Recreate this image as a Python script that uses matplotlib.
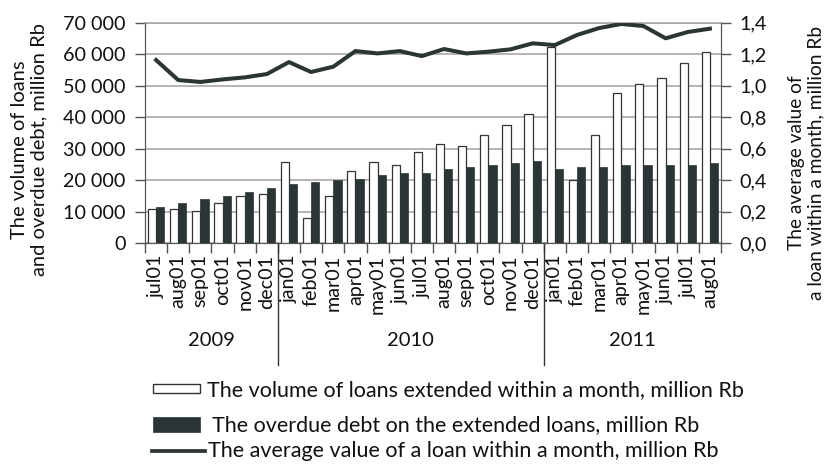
import numpy as np
import matplotlib
matplotlib.use("Agg")
import matplotlib.pyplot as plt
from matplotlib.patches import Rectangle
from matplotlib.lines import Line2D
from matplotlib.ticker import FuncFormatter, MultipleLocator

plt.rcParams['font.family'] = ['Lato', 'DejaVu Sans']
plt.rcParams['text.color'] = '#111111'
plt.rcParams['xtick.labelcolor'] = '#111111'
plt.rcParams['ytick.labelcolor'] = '#111111'

months = ["jul01", "aug01", "sep01", "oct01", "nov01", "dec01",
          "jan01", "feb01", "mar01", "apr01", "may01", "jun01",
          "jul01", "aug01", "sep01", "oct01", "nov01", "dec01",
          "jan01", "feb01", "mar01", "apr01", "may01", "jun01",
          "jul01", "aug01"]
years = ["2009", "2010", "2011"]
months_per_year = [6, 12, 8]

# million Rb
loans_volume = [10800, 10800, 10250, 12800, 15100, 15750,
                25900, 7900, 15100, 22850, 25900, 24850,
                28900, 31400, 30800, 34400, 37450, 40950,
                62400, 20000, 34400, 47600, 50700, 52500,
                57350, 60850]
overdue_debt = [11500, 12800, 14000, 15100, 16400, 17550,
                18700, 19400, 20000, 20500, 21800, 22400,
                22400, 23600, 24200, 24850, 25400, 26000,
                23600, 24200, 24200, 24850, 24850, 24850,
                24850, 25400]
avg_loan = [1.163, 1.036, 1.024, 1.040, 1.053, 1.074,
            1.150, 1.087, 1.121, 1.220, 1.205, 1.220,
            1.188, 1.233, 1.205, 1.216, 1.231, 1.269,
            1.258, 1.322, 1.366, 1.392, 1.379, 1.301,
            1.341, 1.362]

legend_labels = ["The volume of loans extended within a month, million Rb",
                 "The overdue debt on the extended loans, million Rb",
                 "The average value of a loan within a month, million Rb"]
left_label = "The volume of loans\nand overdue debt, million Rb"
right_label = "The average value of\na loan within a month, million Rb"

DARK = "#2b3535"
GRID = "#a8a8a8"
AXIS = "#555555"
TICK_FS = 14.2
MONTH_FS = 14.2
TEXT_FS = 14.5
LEGEND_FS = 15.5

W, H = 825, 465
fig = plt.figure(figsize=(W / 100, H / 100), dpi=100)
x0, x1, ytop, ybot = 145, 721, 22.7, 243.3
ax = fig.add_axes([x0 / W, 1 - ybot / H, (x1 - x0) / W, (ybot - ytop) / H])

x = np.arange(len(months))
bw = 0.37
ax.bar(x - bw / 2, loans_volume, width=bw, color="white", edgecolor="#333333",
       linewidth=0.9, zorder=3)
ax.bar(x + bw / 2, overdue_debt, width=bw, color=DARK, edgecolor=DARK,
       linewidth=0.5, zorder=3)

ax.set_xlim(-0.5, len(months) - 0.5)
ax.set_ylim(0, 70000)
ax.yaxis.set_major_locator(MultipleLocator(10000))
ax.yaxis.set_major_formatter(FuncFormatter(lambda v, p: f"{int(v):,}".replace(",", " ")))
ax.yaxis.grid(True, color=GRID, linewidth=1.2, zorder=0)
ax.set_axisbelow(True)

ax.set_xticks(x)
ax.set_xticklabels(months, rotation=90, fontsize=MONTH_FS, va="top", ha="center")
ax.set_xticks(np.arange(-0.5, len(months), 1), minor=True)
ax.tick_params(axis="x", which="major", length=0, pad=8)
ax.tick_params(axis="x", which="minor", length=7, width=1, color=AXIS, direction="out")
ax.tick_params(axis="y", length=7, width=1, color=AXIS, labelsize=TICK_FS, pad=7)

for side in ["left", "bottom", "right"]:
    ax.spines[side].set_color(AXIS)
ax.spines["top"].set_color(GRID)
ax.spines["top"].set_linewidth(1.2)

ax2 = ax.twinx()
ax2.plot(x, avg_loan, color=DARK, linewidth=2.9, solid_joinstyle="round", zorder=5)
ax2.set_ylim(0, 1.4)
ax2.yaxis.set_major_locator(MultipleLocator(0.2))
ax2.yaxis.set_major_formatter(FuncFormatter(lambda v, p: f"{v:.1f}".replace(".", ",")))
ax2.tick_params(axis="y", length=7, width=1, color=AXIS, labelsize=TICK_FS, pad=6)
for side in ["left", "bottom", "right"]:
    ax2.spines[side].set_color(AXIS)
ax2.spines["top"].set_visible(False)

# year separators and year captions below the month labels
sep_depth = (365 - ybot) / (ybot - ytop)
trans = ax.get_xaxis_transform()
start = 0
for i, (yr, n) in enumerate(zip(years, months_per_year)):
    center = start + (n - 1) / 2
    ax.text(center, -(340 - ybot) / (ybot - ytop), yr, transform=trans,
            ha="center", va="center", fontsize=TEXT_FS)
    if i < len(years) - 1:
        bx = start + n - 0.5
        ax.plot([bx, bx], [0, -sep_depth], transform=trans, color="#333333",
                linewidth=1, clip_on=False)
    start += n

fig.text(29 / W, 1 - 150 / H, left_label, rotation=90, ha="center", va="center",
         fontsize=TEXT_FS, multialignment="center", linespacing=1.15)
fig.text(806 / W, 1 - 163 / H, right_label, rotation=90, ha="center", va="center",
         fontsize=13.8, multialignment="center", linespacing=1.15)

# legend below the chart
hx0, hx1 = 152.5, 200
fig.add_artist(Rectangle((hx0 / W, 1 - 393 / H), (hx1 - hx0) / W, 9.5 / H,
                         transform=fig.transFigure, facecolor="white",
                         edgecolor="#333333", linewidth=1))
fig.add_artist(Rectangle((hx0 / W, 1 - 432 / H), (hx1 - hx0) / W, 15 / H,
                         transform=fig.transFigure, facecolor=DARK,
                         edgecolor=DARK, linewidth=0.5))
fig.add_artist(Line2D([152 / W, 205 / W], [1 - 451 / H, 1 - 451 / H],
                      transform=fig.transFigure, color=DARK, linewidth=2.7))
rows = [390, 425, 451]
text_x = [207, 212, 208]
for lbl, ry, tx in zip(legend_labels, rows, text_x):
    fig.text(tx / W, 1 - ry / H, lbl, ha="left", va="center", fontsize=LEGEND_FS)

fig.savefig("out.png", dpi=100)
